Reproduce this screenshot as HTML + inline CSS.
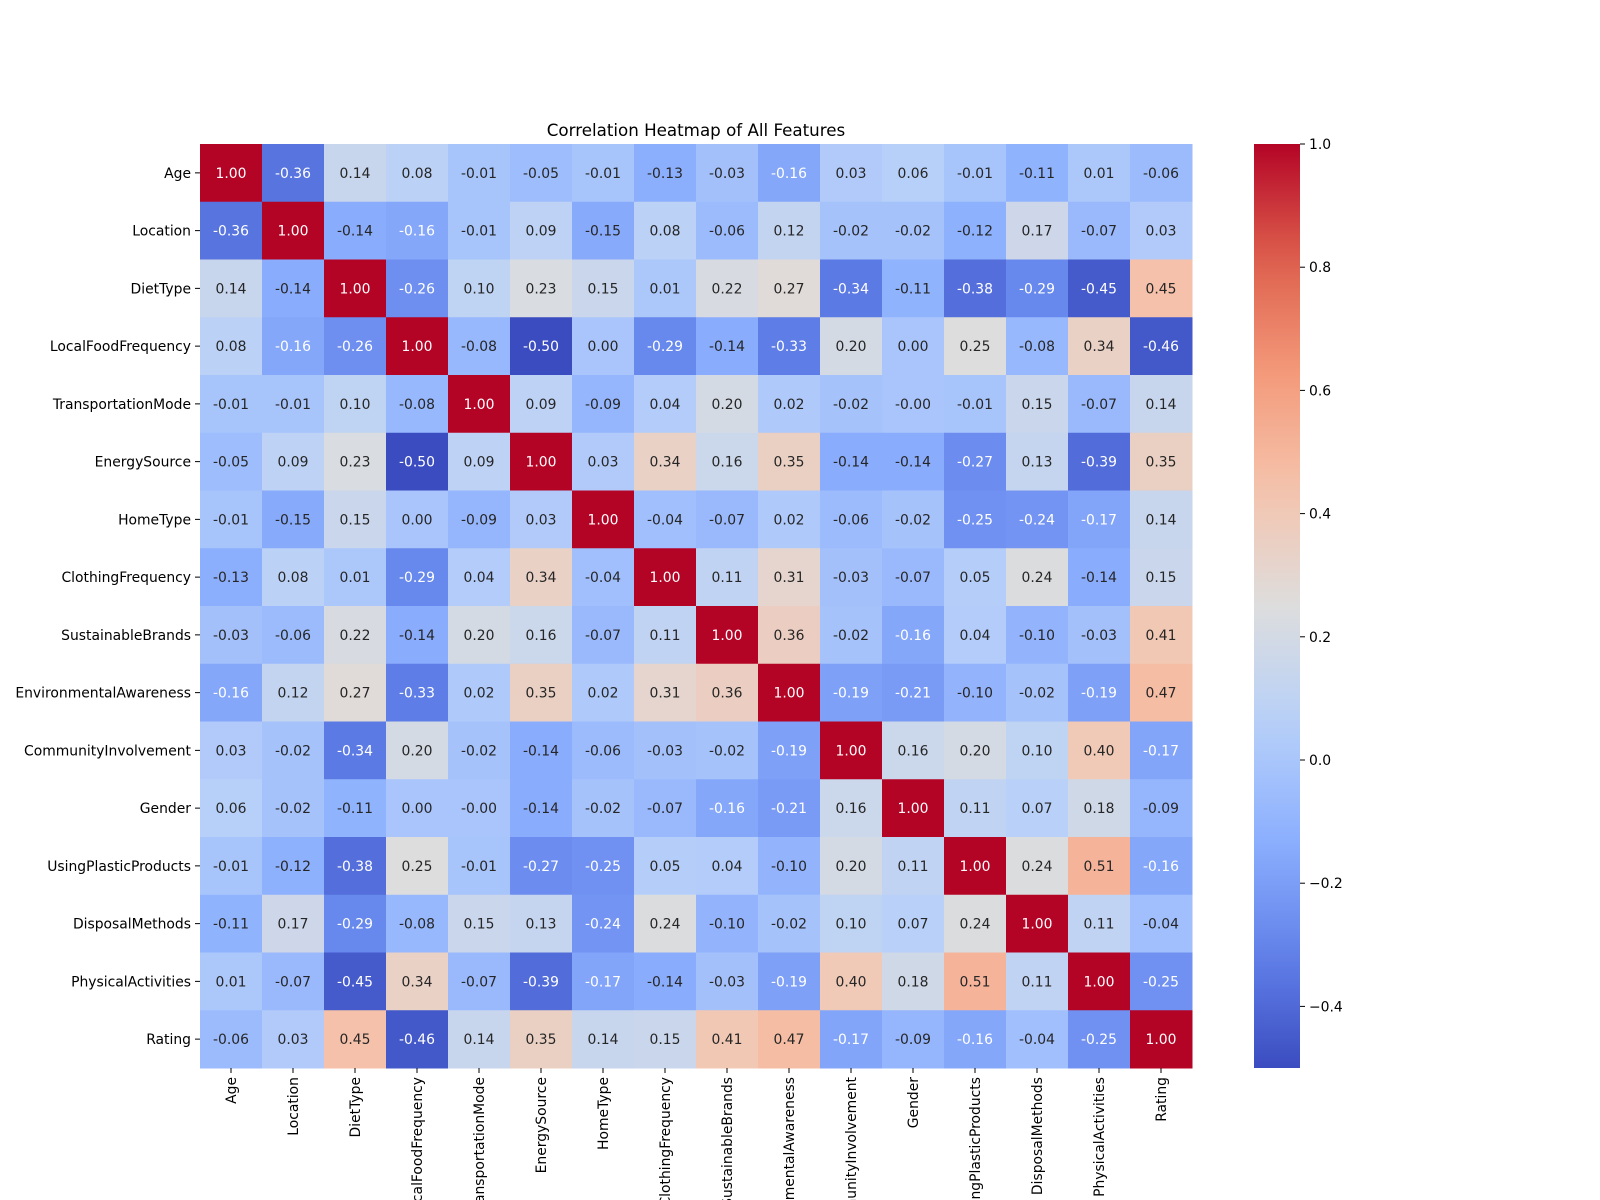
<!DOCTYPE html>
<html><head><meta charset="utf-8"><style>
html,body{margin:0;padding:0;background:#fff;}
svg{display:block;font-family:"DejaVu Sans","Liberation Sans",sans-serif;}
</style></head><body>
<svg id="chart" width="1600" height="1200" viewBox="0 0 1600 1200" xmlns="http://www.w3.org/2000/svg">
<defs><linearGradient id="cbgrad" x1="0" y1="1" x2="0" y2="0"></linearGradient></defs>
<text x="696" y="136" text-anchor="middle" font-size="16.7" fill="#000">Correlation Heatmap of All Features</text>
<g id="cells"></g>
<g id="ylabels"></g>
<g id="xlabels"></g>
<rect id="cbar" x="1254" y="144" width="46" height="924" fill="url(#cbgrad)"/>
<g id="cbticks"></g>
</svg>
<script>
const labels = ["Age","Location","DietType","LocalFoodFrequency","TransportationMode","EnergySource","HomeType","ClothingFrequency","SustainableBrands","EnvironmentalAwareness","CommunityInvolvement","Gender","UsingPlasticProducts","DisposalMethods","PhysicalActivities","Rating"];
const matrix = [
[1.00,-0.36,0.14,0.08,-0.01,-0.05,-0.01,-0.13,-0.03,-0.16,0.03,0.06,-0.01,-0.11,0.01,-0.06],
[-0.36,1.00,-0.14,-0.16,-0.01,0.09,-0.15,0.08,-0.06,0.12,-0.02,-0.02,-0.12,0.17,-0.07,0.03],
[0.14,-0.14,1.00,-0.26,0.10,0.23,0.15,0.01,0.22,0.27,-0.34,-0.11,-0.38,-0.29,-0.45,0.45],
[0.08,-0.16,-0.26,1.00,-0.08,-0.50,0.00,-0.29,-0.14,-0.33,0.20,0.00,0.25,-0.08,0.34,-0.46],
[-0.01,-0.01,0.10,-0.08,1.00,0.09,-0.09,0.04,0.20,0.02,-0.02,-0.00,-0.01,0.15,-0.07,0.14],
[-0.05,0.09,0.23,-0.50,0.09,1.00,0.03,0.34,0.16,0.35,-0.14,-0.14,-0.27,0.13,-0.39,0.35],
[-0.01,-0.15,0.15,0.00,-0.09,0.03,1.00,-0.04,-0.07,0.02,-0.06,-0.02,-0.25,-0.24,-0.17,0.14],
[-0.13,0.08,0.01,-0.29,0.04,0.34,-0.04,1.00,0.11,0.31,-0.03,-0.07,0.05,0.24,-0.14,0.15],
[-0.03,-0.06,0.22,-0.14,0.20,0.16,-0.07,0.11,1.00,0.36,-0.02,-0.16,0.04,-0.10,-0.03,0.41],
[-0.16,0.12,0.27,-0.33,0.02,0.35,0.02,0.31,0.36,1.00,-0.19,-0.21,-0.10,-0.02,-0.19,0.47],
[0.03,-0.02,-0.34,0.20,-0.02,-0.14,-0.06,-0.03,-0.02,-0.19,1.00,0.16,0.20,0.10,0.40,-0.17],
[0.06,-0.02,-0.11,0.00,-0.00,-0.14,-0.02,-0.07,-0.16,-0.21,0.16,1.00,0.11,0.07,0.18,-0.09],
[-0.01,-0.12,-0.38,0.25,-0.01,-0.27,-0.25,0.05,0.04,-0.10,0.20,0.11,1.00,0.24,0.51,-0.16],
[-0.11,0.17,-0.29,-0.08,0.15,0.13,-0.24,0.24,-0.10,-0.02,0.10,0.07,0.24,1.00,0.11,-0.04],
[0.01,-0.07,-0.45,0.34,-0.07,-0.39,-0.17,-0.14,-0.03,-0.19,0.40,0.18,0.51,0.11,1.00,-0.25],
[-0.06,0.03,0.45,-0.46,0.14,0.35,0.14,0.15,0.41,0.47,-0.17,-0.09,-0.16,-0.04,-0.25,1.00]];
const cbTicks = [-0.4,-0.2,0.0,0.2,0.4,0.6,0.8,1.0];
const vmin = -0.50, vmax = 1.00;

const NS="http://www.w3.org/2000/svg";
const X0=200,Y0=144,W=992,H=924,n=labels.length,cw=W/n,ch=H/n;
const CBX=1254,CBW=46;
const stops=[[59,76,192],[98,130,234],[141,176,254],[184,208,249],[221,221,221],[245,196,173],[244,154,123],[222,96,77],[180,4,38]];
function cmap(t){t=Math.max(0,Math.min(1,t));const p=t*8,i=Math.min(7,Math.floor(p)),f=p-i;const a=stops[i],b=stops[i+1];return [0,1,2].map(k=>Math.round(a[k]+(b[k]-a[k])*f));}
function xs(j){return X0+j*cw;}
function ys(i){return Y0+i*ch;}
function cby(v){return Y0+H-(v-vmin)/(vmax-vmin)*H;}
function mk(tag,attrs,parent){const e=document.createElementNS(NS,tag);for(const k in attrs)e.setAttribute(k,attrs[k]);parent.appendChild(e);return e;}
function lum(c){const l=c.map(v=>{v/=255;return v<=0.03928?v/12.92:Math.pow((v+0.055)/1.055,2.4)});return 0.2126*l[0]+0.7152*l[1]+0.0722*l[2];}
const cells=document.getElementById('cells');
for(let i=0;i<n;i++)for(let j=0;j<n;j++){
 const v=matrix[i][j],c=cmap((v-vmin)/(vmax-vmin));
 const r=mk('rect',{x:xs(j),y:ys(i),width:cw+0.5,height:ch+0.5,fill:`rgb(${c})`},cells);
 
 
 const t=mk('text',{x:xs(j)+cw/2,y:ys(i)+ch/2+5,'text-anchor':'middle','font-size':'13.9',fill:lum(c)>0.408?'#262626':'#ffffff'},cells);
 
 
 t.textContent=(Object.is(v,-0)||(v===0&&1/v<0)?'-0.00':v.toFixed(2));
}
const yl=document.getElementById('ylabels'),xl=document.getElementById('xlabels');
labels.forEach((lb,i)=>{
 const cy=ys(i)+ch/2;
 mk('line',{x1:X0-5,x2:X0,y1:cy,y2:cy,stroke:'#000','stroke-width':1},yl);
 const t=mk('text',{x:X0-9,y:cy+5,'text-anchor':'end','font-size':'13.9',fill:'#000'},yl);
 
 
 t.textContent=lb;
 const cx=xs(i)+cw/2;
 mk('line',{x1:cx,x2:cx,y1:Y0+H,y2:Y0+H+5,stroke:'#000','stroke-width':1},xl);
 const u=mk('text',{x:cx+5,y:Y0+H+9,'text-anchor':'end','font-size':'13.9',fill:'#000',transform:`rotate(-90 ${cx+5} ${Y0+H+9})`},xl);
 
 
 u.textContent=lb;
});
const g=document.getElementById('cbgrad');
for(let k=0;k<=20;k++){const c=cmap(k/20);mk('stop',{offset:(k/20),'stop-color':`rgb(${c})`},g);}
const cbt=document.getElementById('cbticks');
cbTicks.forEach(v=>{
 const y=cby(v);
 mk('line',{x1:CBX+CBW,x2:CBX+CBW+5,y1:y,y2:y,stroke:'#000','stroke-width':1},cbt);
 const t=mk('text',{x:CBX+CBW+9,y:y+5,'font-size':'13.9',fill:'#000'},cbt);
 
 
 t.textContent=(v<0?'\u2212':'')+Math.abs(v).toFixed(1);
});
</script>
</body></html>
